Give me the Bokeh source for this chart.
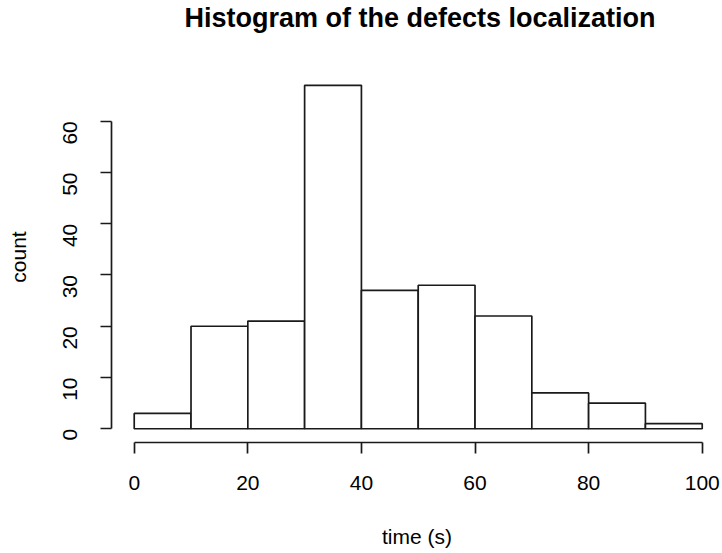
import math

from bokeh.core.properties import value
from bokeh.embed import file_html
from bokeh.layouts import column
from bokeh.models import FixedTicker
from bokeh.plotting import figure
from bokeh.resources import INLINE

# Histogram of defect localization times (10 s bins)
bin_edges = [0, 10, 20, 30, 40, 50, 60, 70, 80, 90, 100]
counts = [3, 20, 21, 67, 27, 28, 22, 7, 5, 1]
x_ticks = [0, 20, 40, 60, 80, 100]
y_ticks = [0, 10, 20, 30, 40, 50, 60]
title_text = "Histogram of the defects localization"

FONT = "Liberation Sans"

# Title strip on top of the chart
head = figure(
    width=722,
    height=71,
    x_range=(0, 1),
    y_range=(0, 1),
    x_axis_type=None,
    y_axis_type=None,
    output_backend="svg",
    toolbar_location=None,
    min_border=0,
)
head.title = None
head.grid.visible = False
head.outline_line_color = None
head.text(
    x=[0.505],
    y=[0.76],
    text=[title_text],
    text_align="center",
    text_baseline="middle",
    text_font=value(FONT),
    text_font_size="27px",
    text_font_style="bold",
    text_color="black",
)

p = figure(
    width=722,
    height=482,
    x_range=(-4, 103.57),
    y_range=(-2.68, 69.7),
    output_backend="svg",
    toolbar_location=None,
    min_border_left=111,
    min_border_right=0,
    min_border_top=0,
    min_border_bottom=111,
)
p.title = None

p.quad(
    left=bin_edges[:-1],
    right=bin_edges[1:],
    bottom=0,
    top=counts,
    fill_color="white",
    line_color="#1a1a1a",
    line_width=1.7,
)

p.grid.visible = False
p.outline_line_color = None
p.background_fill_color = "white"
p.border_fill_color = "white"

xa = p.xaxis[0]
xa.ticker = FixedTicker(ticks=x_ticks)
xa.bounds = (0, 100)
xa.axis_label = "time (s)"
ya = p.yaxis[0]
ya.ticker = FixedTicker(ticks=y_ticks)
ya.bounds = (0, 60)
ya.axis_label = "count"
ya.major_label_orientation = math.pi / 2

for ax in (xa, ya):
    ax.axis_line_color = "#1a1a1a"
    ax.axis_line_width = 1.7
    ax.major_tick_line_color = "#1a1a1a"
    ax.major_tick_line_width = 1.7
    ax.major_tick_in = 0
    ax.major_tick_out = 11
    ax.minor_tick_line_color = None
    ax.major_label_text_font = FONT
    ax.major_label_text_font_size = "21px"
    ax.major_label_text_color = "black"
    ax.axis_label_text_font = FONT
    ax.axis_label_text_font_size = "21px"
    ax.axis_label_text_font_style = "normal"
    ax.axis_label_text_color = "black"

xa.major_label_standoff = 22
xa.axis_label_standoff = 32
ya.major_label_standoff = 30
ya.axis_label_standoff = 24

layout = column(head, p, spacing=0)
open("out.html", "w").write(file_html(layout, INLINE))
